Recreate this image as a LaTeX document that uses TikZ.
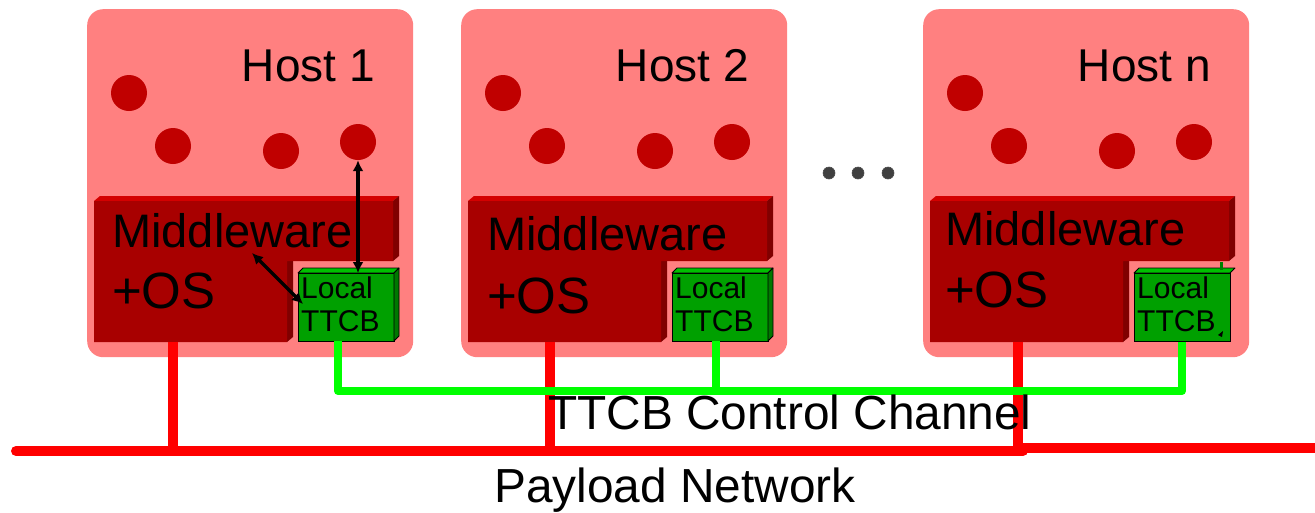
\documentclass[tikz,border=0pt]{standalone}
\usepackage{fontspec}
\setmainfont{Liberation Sans}
\usetikzlibrary{arrows.meta}

\definecolor{hostpink}{HTML}{FF8080}
\definecolor{mwfront}{HTML}{A80000}
\definecolor{mwtop}{HTML}{D40000}
\definecolor{mwside}{HTML}{800000}
\definecolor{procred}{HTML}{C00000}
\definecolor{ttcbfront}{HTML}{00A000}
\definecolor{ttcbtop}{HTML}{00C000}
\definecolor{ttcbside}{HTML}{007800}
\definecolor{payloadred}{HTML}{FF0000}
\definecolor{controlgreen}{HTML}{00FF00}
\definecolor{ellipsisgray}{HTML}{404040}

\tikzset{
  hostbox/.style={fill=hostpink, draw=none, rounded corners=16pt, inner sep=0pt,
    minimum width=326pt, minimum height=348pt, anchor=north west},
  procdot/.style={circle, fill=procred, draw=none, inner sep=0pt, minimum size=36pt},
  mwfrontface/.style={fill=mwfront},
  mwtopface/.style={fill=mwtop},
  mwsideface/.style={fill=mwside},
  ttcbbox/.style={fill=ttcbfront, draw=black, line width=1pt, inner sep=0pt,
    minimum width=96pt, minimum height=68pt, anchor=north west},
  ttcbtopface/.style={fill=ttcbtop, draw=black, line width=0.8pt, line join=round},
  ttcbsideface/.style={fill=ttcbside, draw=black, line width=0.8pt, line join=round},
  hosttext/.style={font=\fontsize{46}{50}\selectfont, inner sep=0pt},
  mwtext/.style={font=\fontsize{47}{50}\selectfont, inner sep=0pt, anchor=base west},
  ostext/.style={font=\fontsize{51}{54}\selectfont, inner sep=0pt, anchor=base west},
  ttcbtext/.style={font=\fontsize{30}{32}\selectfont, inner sep=0pt, anchor=base west},
  captiontext/.style={font=\fontsize{47.8}{50}\selectfont, inner sep=0pt, anchor=base west},
  payloadwire/.style={draw=payloadred, line width=10pt},
  controlwire/.style={draw=controlgreen, line width=8pt, line join=round},
  sigarrow/.style={draw=black, line width=3.2pt,
    {Latex[length=11pt,width=11pt]}-{Latex[length=11pt,width=11pt]}},
  moredot/.style={circle, fill=ellipsisgray, draw=black!70, line width=0.6pt,
    inner sep=0pt, minimum size=12pt},
}

% One host: #1 id, #2 left edge, #3 label, #4 Middleware baseline,
% #5 +OS baseline, #6 left inset of the layer text
\newcommand\hostunit[6]{%
  \begin{scope}[shift={(#2,0)}]
    \node[hostbox] (host#1) at (0,9) {};
    \node[hosttext, anchor=base east] (label#1) at (288,81) {#3};
    % application processes
    \node[procdot] (p#1a) at (42,93) {};
    \node[procdot] (p#1b) at (86,146) {};
    \node[procdot] (p#1c) at (194,151) {};
    \node[procdot] (p#1d) at (271,142) {};
    % middleware + OS layer (L-shaped block)
    \fill[mwtopface] (7,201) -- (13,196) -- (312,196) -- (306,201) -- cycle;
    \fill[mwsideface] (306,201) -- (312,196) -- (312,256) -- (306,261) -- cycle;
    \fill[mwsideface] (200,261) -- (206,261) -- (206,337) -- (200,342) -- cycle;
    \fill[mwfrontface] (7,201) -- (306,201) -- (306,261) -- (200,261)
      -- (200,342) -- (7,342) -- cycle;
    \node[mwtext] (mw#1) at (#6,#4) {Middleware};
    \node[ostext] (os#1) at (#6,#5) {+OS};
    % local TTCB
    \filldraw[ttcbtopface] (211,273) -- (216,268) -- (312,268) -- (307,273) -- cycle;
    \node[ttcbbox] (t#1) at (211,273) {};
    \node[ttcbtext] (tl#1) at (214,298) {Local};
    \node[ttcbtext] (tt#1) at (214,331) {TTCB};
  \end{scope}}

\begin{document}
\begin{tikzpicture}[x=1pt, y=-1pt]
  \useasboundingbox (0,0) rectangle (1315,512);

  \hostunit{1}{87}{Host 1}{247}{308}{25}
  \filldraw[ttcbsideface] (394,273) -- (399,268) -- (399,336) -- (394,341) -- cycle;

  \hostunit{2}{461}{Host 2}{250}{313}{26}
  \filldraw[ttcbsideface] (768,273) -- (773,268) -- (773,336) -- (768,341) -- cycle;

  \hostunit{3}{923}{Host n}{245}{307}{22}
  \draw[ttcbfront!80!black, line width=3pt] (1221,262) -- (1221,270);
  \fill[black] (1218,335) -- (1223,331) -- (1222,337) -- cycle;

  % more hosts
  \node[moredot] (more1) at (829,173) {};
  \node[moredot] (more2) at (858,173) {};
  \node[moredot] (more3) at (888,173) {};

  % interactions inside host 1
  \coordinate (a2s) at (252,253);
  \coordinate (a2e) at (303,304);
  \draw[sigarrow] (p1d.south) -- (p1d.south |- t1.north);
  \draw[sigarrow] (a2s) -- (a2e);

  % payload network
  \coordinate (r1) at (173,342);
  \coordinate (r2) at (550,342);
  \coordinate (r3) at (1018,342);
  \coordinate (busL) at (16,451);
  \coordinate (busM) at (1023,451);
  \coordinate (busR) at (1315,448);
  \draw[payloadwire] (r1) -- (r1 |- busL);
  \draw[payloadwire] (r2) -- (r2 |- busL);
  \draw[payloadwire] (r3) -- ([yshift=-3pt]r3 |- busL);
  \draw[payloadwire, line cap=round] (busL) -- (busM);
  \draw[payloadwire] ([xshift=-5pt]busM |- busR) -- (busR);

  % TTCB control channel
  \coordinate (g1) at (338,341);
  \coordinate (g2) at (716,341);
  \coordinate (g3) at (1182,342);
  \coordinate (chan) at (0,391);
  \draw[controlwire] (g1) -- (g1 |- chan) -- (g3 |- chan) -- (g3);
  \draw[controlwire] (g2) -- (g2 |- chan);

  \node[captiontext] (chanlabel) at (548,429) {TTCB Control Channel};
  \node[captiontext] (netlabel) at (494,502) {Payload Network};
\end{tikzpicture}
\end{document}
